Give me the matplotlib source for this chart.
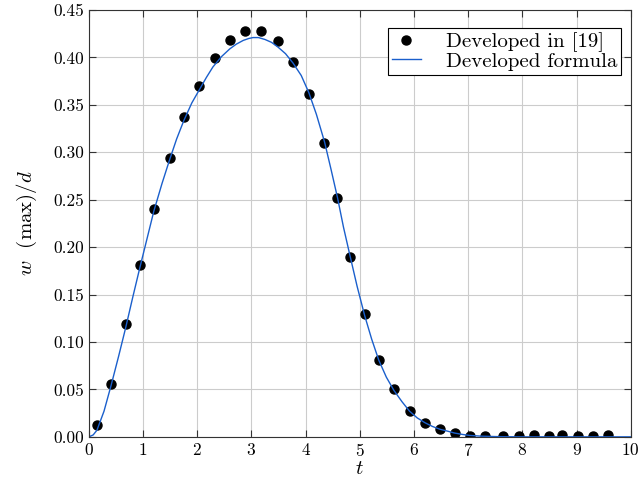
import matplotlib
matplotlib.use("Agg")
import matplotlib.pyplot as plt

# Estilo tipo LaTeX (Computer Modern)
plt.rcParams['font.family'] = 'serif'
plt.rcParams['font.serif'] = ['cmr10']
plt.rcParams['mathtext.fontset'] = 'cm'
plt.rcParams['axes.formatter.use_mathtext'] = True
plt.rcParams['font.size'] = 12.5

# Puntos "Developed in [19]"
t_ref = [0.15, 0.41, 0.68, 0.94, 1.20, 1.49, 1.75, 2.03, 2.32, 2.60,
         2.88, 3.17, 3.49, 3.76, 4.06, 4.34, 4.58, 4.82, 5.09, 5.35,
         5.63, 5.92, 6.20, 6.48, 6.75, 7.03, 7.32, 7.64, 7.93, 8.21,
         8.49, 8.73, 9.02, 9.30, 9.59]
w_ref = [0.012, 0.056, 0.119, 0.181, 0.240, 0.294, 0.337, 0.370, 0.399, 0.418,
         0.428, 0.428, 0.417, 0.395, 0.361, 0.310, 0.252, 0.190, 0.130, 0.081,
         0.050, 0.027, 0.015, 0.008, 0.004, 0.001, 0.001, 0.001, 0.001, 0.002,
         0.001, 0.002, 0.001, 0.001, 0.002]

# Curva "Developed formula"
t_form = [0.0, 0.08, 0.15, 0.28, 0.41, 0.55, 0.68, 0.81, 0.94, 1.07, 1.20,
          1.35, 1.49, 1.62, 1.75, 1.90, 2.05, 2.17, 2.29, 2.45, 2.60, 2.72,
          2.85, 2.95, 3.03, 3.13, 3.25, 3.37, 3.49, 3.63, 3.77, 3.92, 4.06,
          4.20, 4.35, 4.47, 4.59, 4.70, 4.82, 4.95, 5.09, 5.22, 5.35, 5.49,
          5.63, 5.78, 5.92, 6.06, 6.20, 6.34, 6.48, 6.62, 6.75, 6.90, 7.03,
          7.25, 7.50, 7.75, 8.00, 9.00, 10.0]
w_form = [0.0, 0.002, 0.007, 0.027, 0.054, 0.085, 0.115, 0.147, 0.178, 0.208, 0.238,
          0.267, 0.292, 0.314, 0.333, 0.352, 0.367, 0.379, 0.390, 0.401, 0.409, 0.414,
          0.418, 0.420, 0.421, 0.421, 0.419, 0.416, 0.411, 0.404, 0.394, 0.381, 0.363,
          0.340, 0.311, 0.282, 0.252, 0.221, 0.191, 0.159, 0.128, 0.103, 0.081, 0.063,
          0.049, 0.037, 0.027, 0.020, 0.015, 0.011, 0.008, 0.006, 0.004, 0.0025, 0.0015,
          0.0007, 0.0003, 0.0001, 0.0, 0.0, 0.0]

fig = plt.figure(figsize=(6.39, 4.79), dpi=100)
ax = fig.add_axes([0.139, 0.088, 0.848, 0.891])

ax.plot(t_ref, w_ref, 'o', color='black', markersize=6.5, label='Developed in [19]')
ax.plot(t_form, w_form, '-', color='#1a5fcc', linewidth=1.0, label='Developed formula')

ax.set_xlim(0, 10)
ax.set_ylim(0, 0.45)
ax.set_xticks(range(0, 11))
ax.set_yticks([i * 0.05 for i in range(10)])
ax.set_yticklabels([f"{i * 0.05:.2f}" for i in range(10)])

ax.set_xlabel(r'$t$', fontsize=15, labelpad=1)
ax.set_ylabel(r'$w\ $ (max)$/d$', fontsize=15, labelpad=10)

ax.grid(True, color='#cccccc', linewidth=0.8)
ax.tick_params(direction='in', top=True, right=True, length=5, color='#333333')
for s in ax.spines.values():
    s.set_color('#333333')

leg = ax.legend(loc='upper right', bbox_to_anchor=(0.983, 0.958), borderaxespad=0,
                numpoints=1, fancybox=False, framealpha=1, fontsize=15,
                edgecolor='black', borderpad=0.2, handlelength=1.4,
                labelspacing=0.0, handletextpad=1.2)
leg.get_frame().set_linewidth(0.8)

plt.savefig("out.png", dpi=100)
